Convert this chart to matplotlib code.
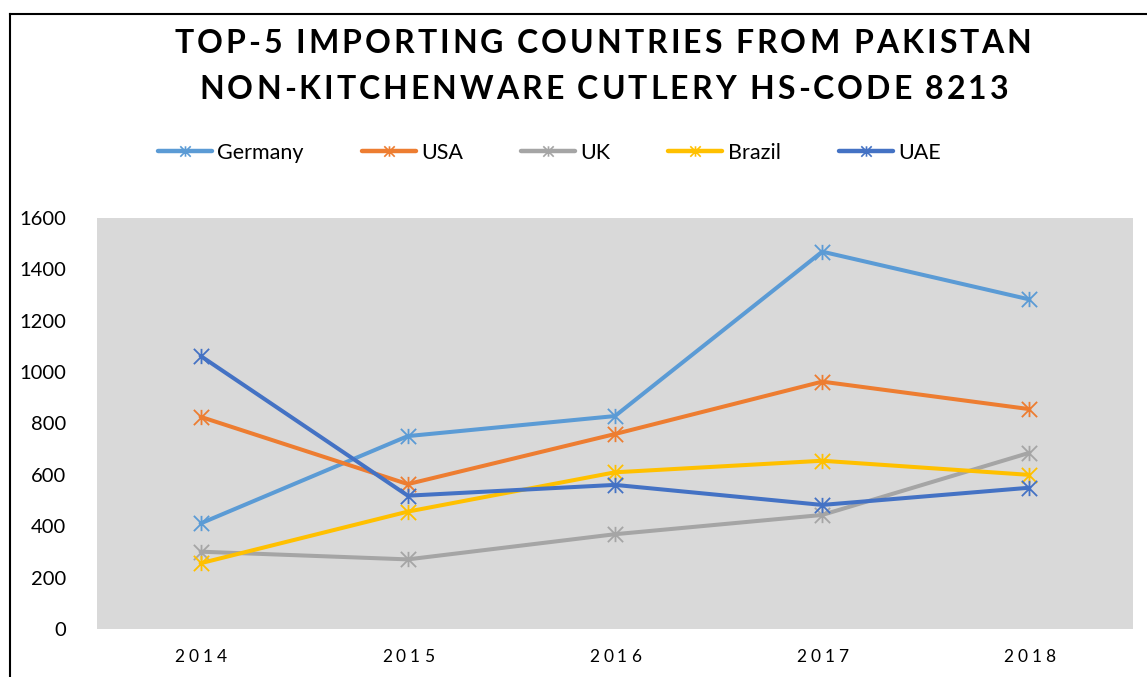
import matplotlib
matplotlib.use('Agg')
import matplotlib.pyplot as plt
from matplotlib.path import Path
from matplotlib.lines import Line2D

# Export value by year (thousand US$)
years = ['2014', '2015', '2016', '2017', '2018']
germany = [411, 751, 829, 1469, 1283]
usa = [826, 564, 759, 963, 856]
uk = [301, 271, 369, 444, 686]
brazil = [256, 457, 610, 655, 600]
uae = [1063, 519, 561, 483, 550]

series_names = ['Germany', 'USA', 'UK', 'Brazil', 'UAE']
series_colors = ['#5B9BD5', '#ED7D31', '#A5A5A5', '#FFC000', '#4472C4']
y_ticks = [0, 200, 400, 600, 800, 1000, 1200, 1400, 1600]

title_lines = ['TOP-5 IMPORTING COUNTRIES FROM PAKISTAN',
               'NON-KITCHENWARE CUTLERY HS-CODE 8213']

W, H = 1147, 677
FONT = 'Lato'

# Excel-style star: vertical bar plus an X
star = Path([(0, -1), (0, 1), (-1, -1), (1, 1), (-1, 1), (1, -1)],
            [Path.MOVETO, Path.LINETO, Path.MOVETO, Path.LINETO,
             Path.MOVETO, Path.LINETO])


def spaced_text(fig, x_px, y_px, s, spacing, **kw):
    """Draw text centred on x_px (baseline y_px) with extra letter spacing."""
    renderer = fig.canvas.get_renderer()
    widths = []
    for ch in s:
        if ch == ' ':
            t = fig.text(0, 0, 'a a', **kw)
            w_full = t.get_window_extent(renderer).width
            t.set_text('aa')
            w_full -= t.get_window_extent(renderer).width
            t.remove()
            widths.append(w_full)
        else:
            t = fig.text(0, 0, ch, **kw)
            widths.append(t.get_window_extent(renderer).width)
            t.remove()
    total = sum(widths) + spacing * (len(s) - 1)
    x = x_px - total / 2
    for ch, w in zip(s, widths):
        if ch != ' ':
            fig.text(x / W, 1 - y_px / H, ch, ha='left', va='baseline', **kw)
        x += w + spacing


fig = plt.figure(figsize=(W / 100, H / 100), dpi=100)
fig.patch.set_facecolor('white')

ax = fig.add_axes([97 / W, 1 - 629 / H, (1133 - 97) / W, (629 - 218) / H])
ax.set_facecolor('#D9D9D9')

x = range(len(years))
for name, vals, col in zip(series_names, [germany, usa, uk, brazil, uae], series_colors):
    ax.plot(x, vals, color=col, linewidth=2.9, marker=star, markersize=11,
            markeredgewidth=1.3, markerfacecolor='none', markeredgecolor=col,
            solid_joinstyle='round', solid_capstyle='round', label=name)

ax.set_xlim(-0.5, len(years) - 0.5)
ax.set_ylim(0, 1600)
ax.set_yticks(y_ticks)
ax.set_yticklabels([str(v) for v in y_ticks], fontsize=14.5, family=FONT)
ax.set_xticks(list(x))
ax.set_xticklabels([])
ax.tick_params(axis='both', length=0)
ax.tick_params(axis='y', pad=22)
for sp in ax.spines.values():
    sp.set_visible(False)

# x labels with letter spacing
for i, yr in enumerate(years):
    px = ax.transData.transform((i, 0))[0]
    spaced_text(fig, px, 662, yr, 4, fontsize=12.5, family=FONT, color='#000000')

# title, two lines, bold with wide tracking
spaced_text(fig, 603, 53, title_lines[0], 3.0, fontsize=23, family=FONT,
            fontweight='bold', color='#000000')
spaced_text(fig, 604, 99, title_lines[1], 3.0, fontsize=23, family=FONT,
            fontweight='bold', color='#000000')

# legend
handles = [Line2D([0], [0], color=c, linewidth=3.2, marker=star, markersize=7.5,
                  markeredgewidth=1.2, markeredgecolor=c, solid_capstyle='round')
           for c in series_colors]
fig.legend(handles, series_names, loc='center left',
           bbox_to_anchor=(158 / W, 1 - 153 / H), ncol=5, frameon=False,
           prop={'family': FONT, 'size': 15.5}, handlelength=2.5,
           handletextpad=0.25, columnspacing=2.7, borderpad=0, borderaxespad=0)

# chart border (cropped on the right and bottom)
fig.add_artist(plt.Line2D([9.5 / W, 9.5 / W], [0, 1 - 13.5 / H], color='black',
                          linewidth=1.5, transform=fig.transFigure))
fig.add_artist(plt.Line2D([9.5 / W, 1], [1 - 13.5 / H, 1 - 13.5 / H], color='black',
                          linewidth=1.5, transform=fig.transFigure))

fig.savefig('out.png', dpi=100)
